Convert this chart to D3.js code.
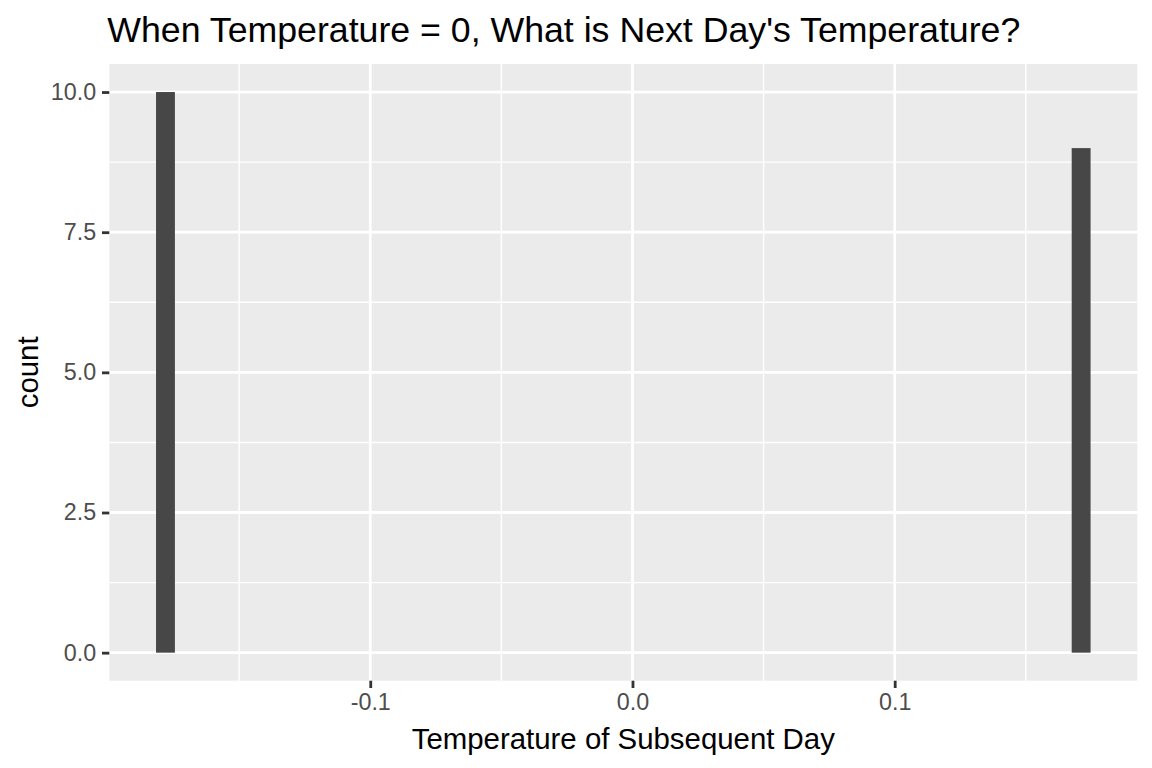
<!DOCTYPE html>
<html>
<head>
<meta charset="utf-8">
<script src="https://cdn.jsdelivr.net/npm/d3@7"></script>
<style>
  html, body { margin: 0; padding: 0; background: #ffffff; }
  svg { display: block; font-family: "Liberation Sans", Arial, Helvetica, sans-serif; }
</style>
</head>
<body>
<svg id="chart" width="1152" height="768"></svg>
<script>
// ---- data ----
const binStart = [-0.1817, 0.1675];
const binEnd   = [-0.1745, 0.1747];
const counts   = [10, 9];
const xTicks = [-0.1, 0.0, 0.1];
const xMinorTicks = [-0.15, -0.05, 0.05, 0.15];
const yTicks = [0, 2.5, 5, 7.5, 10];
const yMinorTicks = [1.25, 3.75, 6.25, 8.75];
const titleText = "When Temperature = 0, What is Next Day's Temperature?";
const xTitle = "Temperature of Subsequent Day";
const yTitle = "count";

// ---- layout ----
const panel = { left: 109.3, right: 1137.3, top: 64, bottom: 680.7 };

const svg = d3.select("#chart");

const bins = binStart.map((s, i) => ({ x0: s, x1: binEnd[i], n: counts[i] }));

const xmin = d3.min(bins, d => d.x0), xmax = d3.max(bins, d => d.x1);
const xpad = (xmax - xmin) * 0.05;
const x = d3.scaleLinear().domain([xmin - xpad, xmax + xpad]).range([panel.left, panel.right]);

const ymax = d3.max(bins, d => d.n);
const ypad = ymax * 0.05;
const y = d3.scaleLinear().domain([-ypad, ymax + ypad]).range([panel.bottom, panel.top]);

// panel background
svg.append("rect")
  .attr("x", panel.left).attr("y", panel.top)
  .attr("width", panel.right - panel.left).attr("height", panel.bottom - panel.top)
  .attr("fill", "#EBEBEB");

const grid = svg.append("g");
grid.selectAll("line.xminor").data(xMinorTicks).join("line")
  .attr("x1", d => x(d)).attr("x2", d => x(d))
  .attr("y1", panel.top).attr("y2", panel.bottom)
  .attr("stroke", "#ffffff").attr("stroke-width", 1.4);
grid.selectAll("line.yminor").data(yMinorTicks).join("line")
  .attr("y1", d => y(d)).attr("y2", d => y(d))
  .attr("x1", panel.left).attr("x2", panel.right)
  .attr("stroke", "#ffffff").attr("stroke-width", 1.4);
grid.selectAll("line.xmajor").data(xTicks).join("line")
  .attr("x1", d => x(d)).attr("x2", d => x(d))
  .attr("y1", panel.top).attr("y2", panel.bottom)
  .attr("stroke", "#ffffff").attr("stroke-width", 2.8);
grid.selectAll("line.ymajor").data(yTicks).join("line")
  .attr("y1", d => y(d)).attr("y2", d => y(d))
  .attr("x1", panel.left).attr("x2", panel.right)
  .attr("stroke", "#ffffff").attr("stroke-width", 2.8);

// bars
svg.append("g").selectAll("rect").data(bins).join("rect")
  .attr("x", d => x(d.x0))
  .attr("width", d => x(d.x1) - x(d.x0))
  .attr("y", d => y(d.n))
  .attr("height", d => y(0) - y(d.n))
  .attr("fill", "#474747");

// axes
const fmt = v => d3.format(".1f")(v).replace("\u2212", "-");
const xAxis = d3.axisBottom(x).tickValues(xTicks).tickFormat(fmt).tickSize(7.3).tickPadding(5);
const gx = svg.append("g").attr("transform", `translate(0,${panel.bottom})`).call(xAxis);
gx.select(".domain").remove();
gx.selectAll(".tick line").attr("stroke", "#333333").attr("stroke-width", 2.8);
gx.selectAll(".tick text").attr("fill", "#4D4D4D").attr("font-size", "23.3px")
  .attr("font-family", "Liberation Sans, Arial, sans-serif");

const yAxis = d3.axisLeft(y).tickValues(yTicks).tickFormat(fmt).tickSize(7.3).tickPadding(5.8);
const gy = svg.append("g").attr("transform", `translate(${panel.left},0)`).call(yAxis);
gy.select(".domain").remove();
gy.selectAll(".tick line").attr("stroke", "#333333").attr("stroke-width", 2.8);
gy.selectAll(".tick text").attr("fill", "#4D4D4D").attr("font-size", "23.3px")
  .attr("font-family", "Liberation Sans, Arial, sans-serif");

// titles
svg.append("text")
  .attr("x", panel.left - 2).attr("y", 42)
  .attr("font-size", "35.7px").attr("fill", "#000000")
  .text(titleText);

svg.append("text")
  .attr("x", (panel.left + panel.right) / 2).attr("y", 749)
  .attr("text-anchor", "middle")
  .attr("font-size", "29.4px").attr("fill", "#000000")
  .text(xTitle);

svg.append("text")
  .attr("transform", `translate(38,${(panel.top + panel.bottom) / 2}) rotate(-90)`)
  .attr("text-anchor", "middle")
  .attr("font-size", "29.4px").attr("fill", "#000000")
  .text(yTitle);
</script>
</body>
</html>
